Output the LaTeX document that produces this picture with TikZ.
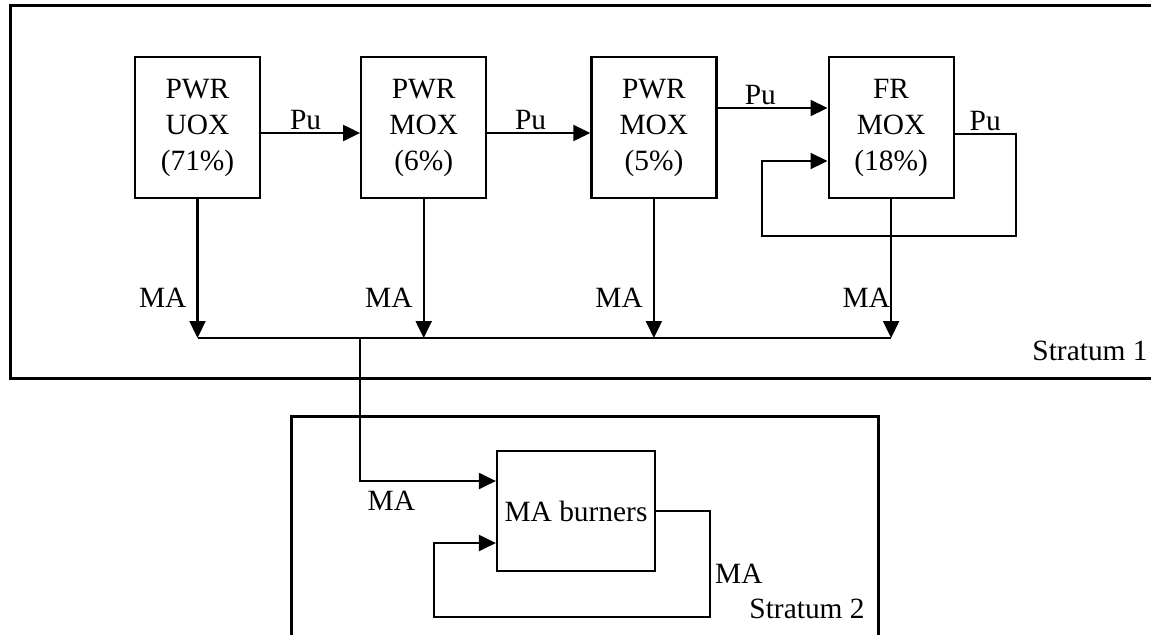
\documentclass[tikz,border=0pt]{standalone}
\usepackage{fontspec}
\setmainfont{Liberation Serif}
\usepackage{tikz}
\usetikzlibrary{arrows.meta,positioning,calc}
\tikzset{
  reactor/.style={rectangle,draw,line width=1.1pt,minimum width=62.5pt,minimum height=70.5pt,align=center,inner sep=2pt},
  burner/.style={reactor,minimum width=79pt,minimum height=60pt},
  flow/.style={-{Triangle[length=8.5pt,width=8pt]},line width=1.1pt},
  link/.style={line width=1.1pt},
  stratum/.style={line width=1.5pt},
  pulabel/.style={above,inner sep=1pt},
  malabel/.style={left,inner sep=5pt}
}

\begin{document}
\begin{tikzpicture}[x=.5pt,y=-.5pt,font=\fontsize{14.7}{18}\selectfont]
  \useasboundingbox (0,0) rectangle (1151,634);
  \clip (0,0) rectangle (1151,634);
  % strata
  \draw[stratum] (1170,378) -- (10,378) -- (10,5) -- (1170,5);
  \draw[stratum] (291,650) -- (291,416) -- (878,416) -- (878,650);
  \node[anchor=base east,inner sep=0pt] (s1) at (1148,360) {Stratum 1};
  \node[anchor=base east,inner sep=0pt] (s2) at (865,618) {Stratum 2};
  % stratum 1 reactors
  \node[reactor] (uox) at (197.5,127.5) {PWR\\UOX\\(71\%)};
  \node[reactor,right=49.5pt of uox] (mox1) {PWR\\MOX\\(6\%)};
  \node[reactor,right=51.5pt of mox1] (mox2) {PWR\\MOX\\(5\%)};
  \node[reactor,right=55pt of mox2] (fr) {FR\\MOX\\(18\%)};
  \draw[flow] ($(uox.east)+(0,5.5)$) -- ($(mox1.west)+(0,5.5)$) node[pulabel,pos=.45] {Pu};
  \draw[flow] ($(mox1.east)+(0,5.5)$) -- ($(mox2.west)+(0,5.5)$) node[pulabel,pos=.42] {Pu};
  \draw[flow] ($(mox2.east)+(0,-19.5)$) -- ($(fr.west)+(0,-19.5)$) node[pulabel,pos=.39] {Pu};
  \draw[flow] ($(fr.east)+(0,6.5)$) -- ++(61,0) node[pulabel,pos=.5] {Pu}
    |- (762,236) |- ($(fr.west)+(0,33.5)$);
  % minor actinides
  \coordinate (bus) at (197,338);
  \foreach \r/\s in {uox/5pt,mox1/5pt,mox2/5pt,fr/0pt}
    \draw[flow] (\r.south) -- (\r.south |- bus) node[malabel,inner sep=\s,pos=.714] {MA};
  \draw[link] (uox.south |- bus) -- (fr.south |- bus);
  % stratum 2
  \node[burner] (burn) at (576,511) {MA burners};
  \coordinate (tap) at (mox1.south west |- bus);
  \coordinate (feed) at ($(burn.west)+(0,-30)$);
  \draw[flow] (tap) -- (tap |- feed) -- (feed) node[below,inner sep=4.5pt,pos=.23] {MA};
  \draw[flow] (burn.east) -- ++(54,0) -- ++(0,106) node[right,inner sep=2pt,pos=.59] {MA}
    -| (434,583) |- ($(burn.west)+(0,32)$);
\end{tikzpicture}
\end{document}
